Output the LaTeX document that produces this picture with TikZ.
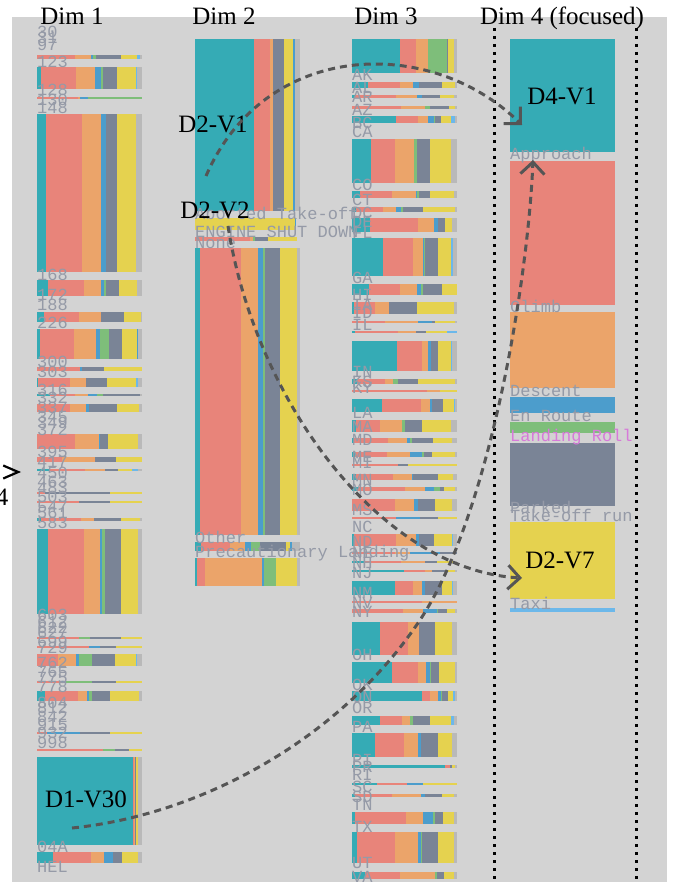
\documentclass[tikz,border=0pt]{standalone}
\usepackage{fontspec}
\setmainfont{Liberation Serif}
\newfontfamily\catfont{Liberation Mono}
\usetikzlibrary{arrows.meta}
\definecolor{bggray}{HTML}{D3D3D3}
\definecolor{ct}{HTML}{35ABB5}
\definecolor{cs}{HTML}{E8847A}
\definecolor{co}{HTML}{EBA46A}
\definecolor{cb}{HTML}{4C9DCC}
\definecolor{cg}{HTML}{7EBE7A}
\definecolor{ck}{HTML}{7A8496}
\definecolor{cy}{HTML}{E5D24F}
\definecolor{cr}{HTML}{B9B9B9}
\definecolor{cl}{HTML}{6CB8EA}
\definecolor{lblgray}{HTML}{959AA7}
\definecolor{lblpink}{HTML}{D77AD9}
\definecolor{flowgray}{HTML}{555555}
\tikzset{>/.tip={Straight Barb[length=12pt,width=24pt,line width=3pt]},
  dimhead/.style={font=\fontsize{25}{28}\selectfont, anchor=base, inner sep=0pt},
  vallbl/.style={font=\fontsize{25}{28}\selectfont, anchor=base, inner sep=0pt},
  catlbl/.style={font=\catfont\fontsize{17}{17}\selectfont, text=lblgray, anchor=west, inner sep=0pt},
  flow/.style={draw=flowgray, line width=3pt, dash pattern=on 7pt off 5pt, ->},
  axisdots/.style={line width=3pt, dash pattern=on 3pt off 5pt}}
\newcommand{\catbar}[4]{%
  \xdef\segx{#1}%
  \foreach \segc/\xr in {#4}{%
    \fill[fill=c\segc] (\segx,#2) rectangle (\xr,#3);
    \xdef\segx{\xr}%
  }%
}

\begin{document}
\begin{tikzpicture}[x=1pt,y=-1pt]
\useasboundingbox (0,0) rectangle (674,882);
\fill[bggray] (12,17) rectangle (667,882);
\draw[axisdots] (494,28) -- (494,882);
\draw[axisdots] (636,28) -- (636,882);

\node[dimhead] (dim1) at (72,25) {Dim 1};
\node[dimhead] (dim2) at (224,25) {Dim 2};
\node[dimhead] (dim3) at (386,25) {Dim 3};
\node[dimhead] (dim4) at (562,25) {Dim 4 (focused)};

\catbar{37}{55}{59}{s/75,o/91,b/93,g/96,k/121,y/137,l/140,r/142}
\catbar{37}{67}{89}{t/41,s/76,o/95,b/101,g/103,k/117,y/136,l/137,r/142}
\catbar{37}{97}{99}{s/78,o/80,b/88,g/142}
\catbar{37}{114}{272}{t/46,s/82,o/101,b/106,k/117,y/136,r/142}
\catbar{37}{280}{296}{t/48,s/84,o/101,b/104,g/106,k/119,y/137,r/142}
\catbar{37}{312}{322}{t/44,s/79,o/101,k/124,y/141,r/142}
\catbar{37}{329}{359}{t/40,s/74,o/96,b/100,g/109,k/122,y/137,b/138,r/142}
\catbar{37}{367}{371}{s/80,b/82,k/104,y/142}
\catbar{37}{378}{387}{t/38,s/70,o/86,k/107,y/136,l/138,r/142}
\catbar{37}{394}{396}{t/50,s/75,o/88,b/97,g/103,k/140,r/142}
\catbar{37}{404}{412}{s/70,o/86,b/89,k/117,y/139,r/142}
\catbar{37}{434}{449}{s/75,o/99,b/100,k/108,y/138,r/142}
\catbar{37}{457}{462}{s/62,o/95,k/116,y/142}
\catbar{37}{469}{471}{t/50,s/85,o/105,k/118,y/132,l/138,r/142}
\catbar{37}{492}{494}{s/45,k/110,y/142}
\catbar{37}{501}{503}{s/79,k/110,y/142}
\catbar{37}{518}{521}{t/41,s/81,o/94,k/121,y/140,r/142}
\catbar{37}{529}{614}{t/48,s/84,o/100,b/102,g/105,k/121,y/138,r/142}
\catbar{37}{637}{639}{s/79,g/90,k/121,y/142}
\catbar{37}{646}{648}{s/89,b/100,k/116,y/142}
\catbar{37}{654}{666}{s/58,o/76,b/79,g/92,k/115,y/136,l/137,r/142}
\catbar{37}{681}{683}{s/61,b/66,g/92,k/116,y/142}
\catbar{37}{691}{701}{t/45,s/78,o/87,b/89,g/92,k/110,y/139,r/142}
\catbar{37}{732}{734}{s/47,b/80,k/110,y/142}
\catbar{37}{749}{751}{s/103,g/115,k/129,y/142}
\catbar{37}{757}{845}{t/133,s/134,o/135,k/136,y/138,r/142}
\catbar{37}{852}{863}{t/53,s/91,o/104,b/113,k/122,y/138,r/142}

\catbar{195}{39}{211}{t/254,s/270,o/273,k/284,y/293,b/295,r/300}
\catbar{195}{218}{230}{y/295,b/296}
\catbar{195}{237}{241}{s/250,o/253,g/255,k/268,y/297}
\catbar{195}{248}{535}{t/200,s/241,o/258,b/263,g/265,k/280,y/297,r/300}
\catbar{195}{542}{551}{t/201,s/230,o/245,b/251,g/260,k/286,y/290,b/292,r/300}
\catbar{195}{558}{586}{t/197,s/205,o/262,b/264,g/276,y/297,r/300}

\catbar{352}{39}{73}{t/400,s/416,o/428,g/447,k/448,y/454,r/457}
\catbar{352}{82}{88}{t/368,s/400,o/413,b/419,k/442,y/455,r/457}
\catbar{352}{95}{98}{t/355,s/396,o/417,b/422,k/440,y/454,r/457}
\catbar{352}{106}{109}{s/401,o/425,g/430,k/449,y/455,r/457}
\catbar{352}{116}{123}{t/396,s/418,o/428,b/434,g/435,k/441,y/451,l/455,r/457}
\catbar{352}{139}{183}{t/371,s/395,o/414,g/417,k/430,y/451,r/457}
\catbar{352}{191}{198}{t/360,s/392,o/416,b/417,g/419,k/430,y/454,r/457}
\catbar{352}{207}{212}{t/356,s/383,o/396,b/401,g/403,k/423,y/455,r/457}
\catbar{352}{218}{232}{t/370,s/418,o/434,b/438,k/445,y/452,r/457}
\catbar{352}{238}{276}{t/383,s/413,o/423,b/424,g/425,k/438,y/451,l/453,r/457}
\catbar{352}{284}{295}{t/369,s/400,o/417,b/421,g/423,k/442,y/457}
\catbar{352}{302}{314}{t/354,s/375,o/389,k/417,y/454,r/457}
\catbar{352}{321}{323}{s/385,o/418,b/432,k/435,y/455,r/457}
\catbar{352}{331}{333}{t/355,s/398,o/416,k/426,y/447,l/457}
\catbar{352}{341}{371}{t/397,s/422,o/428,b/431,k/438,y/451,l/452,r/457}
\catbar{352}{379}{384}{t/357,s/385,o/393,g/398,k/418,y/455,r/457}
\catbar{352}{390}{392}{s/427,o/440,y/457}
\catbar{352}{399}{412}{t/382,s/421,o/430,b/432,k/443,y/454,l/455,r/457}
\catbar{352}{420}{432}{t/356,s/380,o/402,g/405,k/422,y/451,r/457}
\catbar{352}{438}{443}{t/354,s/388,o/407,b/410,g/412,k/433,y/452,r/457}
\catbar{352}{452}{457}{t/355,s/387,o/410,b/422,g/424,k/432,y/455,r/457}
\catbar{352}{464}{466}{s/398,k/408,y/457}
\catbar{352}{474}{480}{t/356,s/393,o/412,b/413,k/438,y/453,r/457}
\catbar{352}{487}{491}{t/358,s/405,o/425,b/434,g/440,k/444,y/455,r/457}
\catbar{352}{499}{511}{s/395,o/414,b/418,k/435,y/452,r/457}
\catbar{352}{517}{519}{s/396,b/420,k/438,y/457}
\catbar{352}{534}{546}{t/354,s/396,o/416,b/419,k/434,y/452,l/453,r/457}
\catbar{352}{552}{554}{s/395,o/410,b/440,k/457}
\catbar{352}{561}{563}{t/365,s/401,o/425,k/437,y/455,r/457}
\catbar{352}{570}{572}{t/404,s/425,o/432,k/445,y/455,r/457}
\catbar{352}{581}{595}{t/395,s/413,o/422,b/425,k/442,y/452,l/453,r/457}
\catbar{352}{601}{603}{s/422,o/457}
\catbar{352}{609}{613}{s/403,o/423,b/437,g/438,k/447,y/455,r/457}
\catbar{352}{622}{655}{t/380,s/408,o/419,k/435,y/452,r/457}
\catbar{352}{662}{683}{t/392,s/418,o/426,b/430,g/431,k/439,y/455,r/457}
\catbar{352}{691}{701}{t/422,s/430,o/438,b/441,g/442,k/448,y/453,l/455,r/457}
\catbar{352}{716}{725}{t/380,s/402,o/410,g/413,k/430,y/451,l/454,r/457}
\catbar{352}{733}{757}{t/375,s/404,o/418,b/421,k/438,y/452,r/457}
\catbar{352}{765}{768}{t/445,s/450,k/452,y/455,r/457}
\catbar{352}{783}{785}{t/377,s/407,b/423,y/457}
\catbar{352}{794}{797}{t/355,s/392,o/421,b/425,k/442,y/454,r/457}
\catbar{352}{812}{824}{t/355,s/406,o/423,b/433,g/435,k/443,y/454,r/457}
\catbar{352}{832}{863}{t/357,s/395,o/418,b/421,g/422,k/438,y/454,r/457}
\catbar{352}{872}{879}{t/365,s/400,o/435,g/437,k/444,y/454,r/457}

\foreach \segc/\yt/\yb in {t/39/152,s/161/305,o/312/388,b/397/413,g/422/433,k/443/506,y/522/599,l/608/612}
  \fill[fill=c\segc] (510,\yt) rectangle (615,\yb);

\foreach \t/\y in {30/32,31/38,97/45,123/62,128/90,130/100,148/108,168/275,172/295,188/305,226/323,300/362,303/372,316/390,332/398,337/408,345/417,349/423,372/430,395/452,417/462,450/473,463/482,483/488,503/497,547/507,561/513,583/523,603/615,612/622,622/628,627/633,699/642,729/648,762/663,765/672,775/678,778/687,804/703,812/708,842/717,915/725,932/733,998/743,04A/847,HEL/867}
  \node[catlbl] (d1-\t) at (37,\y) {\t};
\foreach \t/\y [count=\i] in {Aborted Take-off/213,ENGINE SHUT DOWN/232,None/243,Other/537,Precautionary Landing/553}
  \node[catlbl] (d2-\i) at (195,\y) {\t};
\foreach \t/\y in {AK/75,AL/88,AR/97,AZ/110,BC/123,CA/132,CO/185,CT/200,DC/213,DE/222,FL/233,GA/278,HI/295,IA/305,ID/313,IL/325,IN/372,KS/382,KY/388,LA/413,MA/427,MD/440,ME/457,MI/463,MN/480,MO/490,MS/510,NC/527,ND/542,NE/553,NH/563,NJ/573,NM/593,NV/603,NY/612,OH/655,OK/685,ON/697,OR/708,PA/727,PI/760,PR/767,RI/775,SC/787,SD/797,TN/805,TX/827,UT/863,VA/877}
  \node[catlbl] (d3-\t) at (352,\y) {\t};
\foreach \t/\y [count=\i] in {Approach/155,Climb/306,Descent/391,En Route/416,Parked/507,Take-off run/515,Taxi/603}
  \node[catlbl] (d4-\i) at (510,\y) {\t};
\node[catlbl, text=lblpink] (d4-roll) at (510,437) {Landing Roll};

\node[vallbl] (d2v1) at (213,133) {D2-V1};
\node[vallbl] (d2v2) at (215,219) {D2-V2};
\node[vallbl] (d4v1) at (562,105) {D4-V1};
\node[vallbl] (d2v7) at (560,568) {D2-V7};
\node[vallbl] (d1v30) at (86,807) {D1-V30};

\coordinate (d2v1src) at (206,176);
\coordinate (d4v1dst) at (522,125);
\coordinate (d2v2src) at (228,226);
\coordinate (d2v7dst) at (522,578);
\coordinate (d1v30src) at (72,828);
\coordinate (d1v30mid) at (420,620);
\coordinate (approachdst) at (533,160);
\draw[flow] (d2v1src) .. controls (265,40) and (430,35) .. (d4v1dst);
\draw[flow] (d2v2src) .. controls (255,400) and (380,570) .. (d2v7dst);
\draw[flow] (d1v30src) .. controls (200,815) and (340,740) .. (d1v30mid)
  .. controls (490,515) and (528,280) .. (approachdst);

\node[font=\fontsize{25}{28}\selectfont, anchor=base, inner sep=0pt] (d1v24) at (2,505) {4};
\coordinate (d1v24tail) at (19,472);
\coordinate (d1v24tip) at (21,472);
\draw[-{Straight Barb[length=15pt,width=13pt,line width=2.2pt]}, line width=2pt] (d1v24tail) -- (d1v24tip);
\end{tikzpicture}
\end{document}
